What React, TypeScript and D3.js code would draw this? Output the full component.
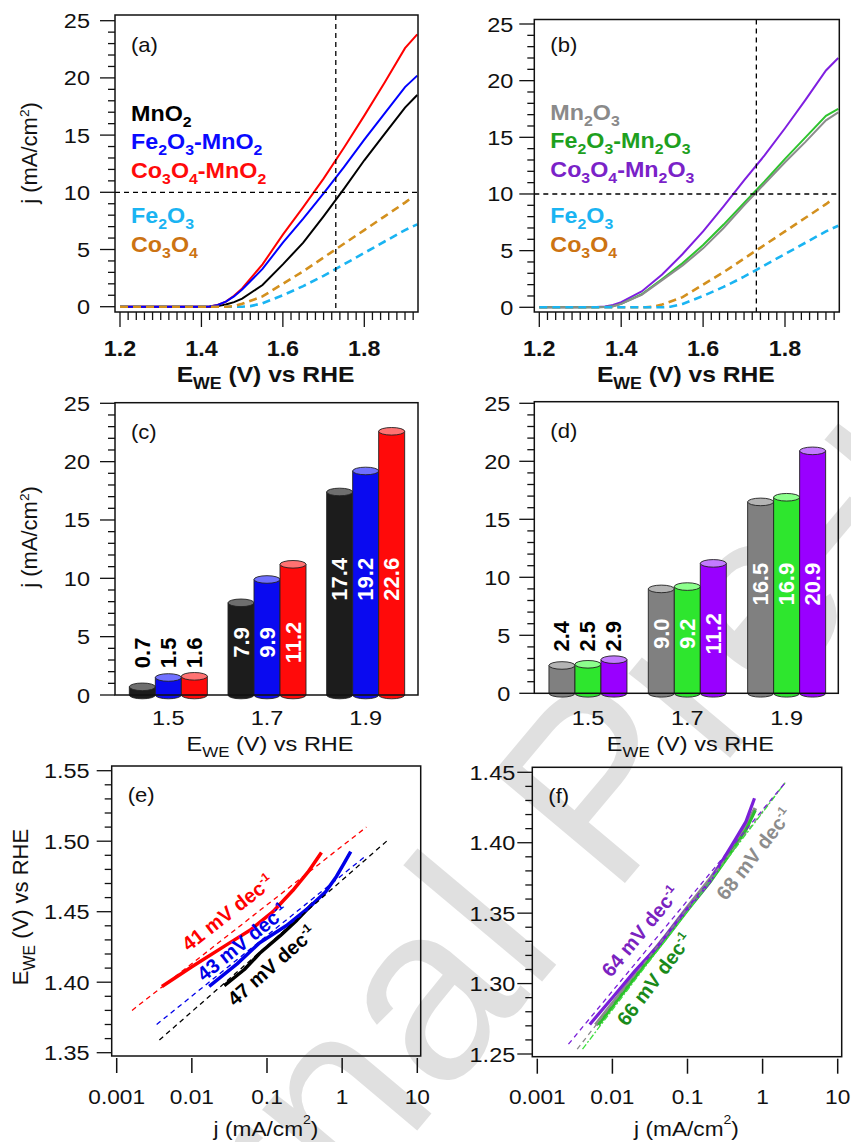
import React from "react";
import * as d3 from "d3";

const FONT = "'Liberation Sans', Arial, Helvetica, sans-serif";
const SX = 1.12; // horizontal texts in the figure look slightly stretched

// ---------- (a) LSV, MnO2 based ----------
const ePotA = [1.2, 1.3, 1.4, 1.42, 1.44, 1.46, 1.48, 1.5, 1.55, 1.6, 1.65, 1.7, 1.75, 1.8, 1.85, 1.9, 1.93];
const jMnO2 = [0, 0, 0, 0, 0.05, 0.2, 0.4, 0.7, 1.9, 3.7, 5.6, 7.9, 10.3, 12.8, 15.1, 17.4, 18.5];
const jFeMnO2 = [0, 0, 0, 0.02, 0.15, 0.45, 0.9, 1.5, 3.3, 5.6, 7.7, 9.9, 12.2, 14.6, 16.9, 19.2, 20.2];
const jCoMnO2 = [0, 0, 0, 0.02, 0.15, 0.45, 0.95, 1.6, 3.7, 6.3, 8.7, 11.2, 13.9, 16.7, 19.6, 22.6, 23.8];

// single oxides (shown in (a) and (b))
const ePotFe2O3 = [1.2, 1.3, 1.4, 1.5, 1.52, 1.55, 1.6, 1.65, 1.7, 1.75, 1.8, 1.85, 1.9, 1.93];
const jFe2O3 = [0, 0, 0, 0, 0.05, 0.3, 1.0, 1.8, 2.7, 3.7, 4.7, 5.7, 6.7, 7.2];
const ePotCo3O4 = [1.2, 1.3, 1.4, 1.46, 1.48, 1.5, 1.55, 1.6, 1.65, 1.7, 1.75, 1.8, 1.85, 1.9, 1.915];
const jCo3O4 = [0, 0, 0, 0, 0.05, 0.25, 0.9, 2.0, 3.1, 4.3, 5.5, 6.7, 7.9, 9.1, 9.5];

// ---------- (b) LSV, Mn2O3 based ----------
const ePotB = [1.2, 1.3, 1.34, 1.36, 1.38, 1.4, 1.45, 1.5, 1.55, 1.6, 1.65, 1.7, 1.75, 1.8, 1.85, 1.9, 1.93];
const jMn2O3 = [0, 0, 0, 0.03, 0.1, 0.3, 1.1, 2.4, 3.7, 5.2, 7.0, 9.0, 10.9, 12.8, 14.6, 16.5, 17.2];
const jFeMn2O3 = [0, 0, 0, 0.03, 0.1, 0.3, 1.15, 2.5, 3.9, 5.5, 7.3, 9.2, 11.1, 13.1, 15.0, 16.9, 17.5];
const jCoMn2O3 = [0, 0, 0.02, 0.07, 0.2, 0.45, 1.4, 2.9, 4.7, 6.7, 8.9, 11.2, 13.4, 15.8, 18.3, 20.9, 22.0];

const crossE = 1.73;
const crossJ = 10;

// ---------- (c), (d) bars ----------
const barPotentials = ["1.5", "1.7", "1.9"];
const barMnO2 = [0.7, 7.9, 17.4];
const barFeMnO2 = [1.5, 9.9, 19.2];
const barCoMnO2 = [1.6, 11.2, 22.6];
const barMn2O3 = [2.4, 9.0, 16.5];
const barFeMn2O3 = [2.5, 9.2, 16.9];
const barCoMn2O3 = [2.9, 11.2, 20.9];

// ---------- (e) Tafel, MnO2 based ----------
const tjCoMnO2 = [0.004, 0.01, 0.03, 0.06, 0.12, 0.22, 0.35, 0.53];
const tECoMnO2 = [1.397, 1.411, 1.427, 1.437, 1.45, 1.465, 1.478, 1.492];
const fitJCoMnO2 = [0.0016, 2.1];
const fitECoMnO2 = [1.38, 1.51];
const tjFeMnO2 = [0.017, 0.04, 0.08, 0.18, 0.37, 0.6, 0.84, 1.05, 1.3];
const tEFeMnO2 = [1.397, 1.413, 1.428, 1.44, 1.4535, 1.464, 1.475, 1.484, 1.4926];
const fitJFeMnO2 = [0.0034, 2.0];
const fitEFeMnO2 = [1.37, 1.489];
const tjMnO2 = [0.027, 0.05, 0.08, 0.15, 0.25, 0.41];
const tEMnO2 = [1.3975, 1.409, 1.4205, 1.433, 1.444, 1.456];
const fitJMnO2 = [0.0037, 4.1];
const fitEMnO2 = [1.359, 1.501];

// ---------- (f) Tafel, Mn2O3 based ----------
const tjCoMn2O3 = [0.005, 0.01, 0.02, 0.041, 0.08, 0.19, 0.43, 0.6, 0.78];
const tECoMn2O3 = [1.271, 1.29, 1.309, 1.327, 1.347, 1.371, 1.402, 1.415, 1.4316];
const fitJCoMn2O3 = [0.0026, 2.05];
const fitECoMn2O3 = [1.257, 1.4434];
const tjMn2O3 = [0.006, 0.012, 0.025, 0.05, 0.1, 0.2, 0.4, 0.6, 0.8];
const tEMn2O3 = [1.2706, 1.291, 1.313, 1.333, 1.354, 1.374, 1.397, 1.411, 1.4245];
const fitJMn2O3 = [0.0034, 2.05];
const fitEMn2O3 = [1.2535, 1.4434];
const tjFeMn2O3 = [0.0065, 0.012, 0.025, 0.05, 0.1, 0.2, 0.4, 0.6, 0.8];
const tEFeMn2O3 = [1.2706, 1.289, 1.311, 1.331, 1.352, 1.372, 1.395, 1.409, 1.423];
const fitJFeMn2O3 = [0.004, 2.05];
const fitEFeMn2O3 = [1.2535, 1.4434];

const slopesE = ["41", "43", "47"];
const slopesF = ["64", "66", "68"];
const logTicks = [0.001, 0.01, 0.1, 1, 10];

const zip = (xs: number[], ys: number[]) => xs.map((x, i) => [x, ys[i]] as [number, number]);

// chemical formula with subscript digits
function chem(s: string, size: number) {
  const parts = s.split(/(\d)/).filter(Boolean);
  let down = false;
  return parts.map((p, i) => {
    const dig = /^\d$/.test(p);
    let dy = 0;
    if (dig && !down) { dy = size * 0.28; down = true; }
    else if (!dig && down) { dy = -size * 0.28; down = false; }
    return (
      <tspan key={i} dy={dy} fontSize={dig ? size * 0.68 : size}>
        {p}
      </tspan>
    );
  });
}

const eweTitle = (size: number) => [
  <tspan key="e">E</tspan>,
  <tspan key="we" dy={size * 0.3} fontSize={size * 0.72}>WE</tspan>,
  <tspan key="r" dy={-size * 0.3}> (V) vs RHE</tspan>,
];

const jTitle = (size: number, high = false) => [
  <tspan key="a">j (mA/cm</tspan>,
  <tspan key="b" dy={-size * (high ? 0.55 : 0.38)} fontSize={size * 0.62}>2</tspan>,
  <tspan key="c" dy={size * (high ? 0.55 : 0.38)}>)</tspan>,
];

function HText(p: any) {
  const { x, y, size = 21, weight = "normal", anchor = "middle", fill = "#111", sx = SX, children } = p;
  return (
    <text transform={`translate(${x},${y}) scale(${sx},1)`} fontSize={size} fontWeight={weight} textAnchor={anchor} fill={fill}>
      {children}
    </text>
  );
}

function RText(p: any) {
  const { x, y, angle, size = 20, weight = "normal", anchor = "middle", fill = "#111", base, children } = p;
  return (
    <text transform={`translate(${x},${y}) rotate(${angle})`} fontSize={size} fontWeight={weight} textAnchor={anchor} fill={fill} dominantBaseline={base}>
      {children}
    </text>
  );
}

function Frame({ b }: any) {
  return <rect x={b.x0} y={b.y0} width={b.x1 - b.x0} height={b.y1 - b.y0} fill="none" stroke="#111" strokeWidth={1.5} />;
}

function YTicks({ scale, x0, from, to, step, every, fmt, gap }: any) {
  const n = Math.round((to - from) / step);
  const out: any[] = [];
  for (let i = 0; i <= n; i++) {
    const v = from + i * step;
    const y = scale(v);
    const major = i % every === 0;
    out.push(<line key={"t" + i} x1={x0 - (major ? 15 : 7)} x2={x0} y1={y} y2={y} stroke="#111" strokeWidth={1.3} />);
    if (major)
      out.push(
        <HText key={"l" + i} x={x0 - gap} y={y + 7.5} anchor="end" size={21}>
          {fmt(v)}
        </HText>
      );
  }
  return <g>{out}</g>;
}

function LsvPanel(p: any) {
  const { b, x, y, series, legend, tag, clipId } = p;
  const line = d3.line<[number, number]>().x((d) => x(d[0])).y((d) => y(d[1]));
  const ticks: any[] = [];
  for (let i = 0; i <= 36; i++) {
    const v = 1.2 + i * 0.02;
    const major = i % 10 === 0;
    ticks.push(<line key={i} x1={x(v)} x2={x(v)} y1={b.y1} y2={b.y1 + (major ? 15 : 8)} stroke="#111" strokeWidth={1.3} />);
  }
  return (
    <g>
      <defs>
        <clipPath id={clipId}>
          <rect x={b.x0} y={b.y0} width={b.x1 - b.x0} height={b.y1 - b.y0} />
        </clipPath>
      </defs>
      <g clipPath={`url(#${clipId})`}>
        {series.map((s: any, i: number) => (
          <path key={i} d={line(zip(s.e, s.j)) || ""} fill="none" stroke={s.color} strokeWidth={s.dash ? 2.6 : 2}
            strokeDasharray={s.dash ? "8,5" : undefined} />
        ))}
        <line x1={x(crossE)} x2={x(crossE)} y1={b.y0} y2={b.y1} stroke="#000" strokeWidth={1.3} strokeDasharray="5,4" />
        <line x1={b.x0} x2={b.x1} y1={y(crossJ)} y2={y(crossJ)} stroke="#000" strokeWidth={1.3} strokeDasharray="5,4" />
      </g>
      <Frame b={b} />
      {ticks}
      {[1.2, 1.4, 1.6, 1.8].map((v) => (
        <HText key={v} x={x(v)} y={356} size={22} weight="bold" sx={1.06}>
          {v.toFixed(1)}
        </HText>
      ))}
      <HText x={(b.x0 + b.x1) / 2 - 1} y={382} size={22} weight="bold" sx={1.12}>
        {eweTitle(22)}
      </HText>
      <YTicks scale={y} x0={b.x0} from={0} to={25} step={1} every={5} fmt={d3.format("d")} gap={p.gap} />
      <HText x={b.x0 + 16} y={52} size={21} anchor="start" sx={1.05}>{tag}</HText>
      {legend.map((l: any, i: number) => (
        <HText key={i} x={b.x0 + 16} y={l.y} size={22} weight="bold" anchor="start" fill={l.color} sx={1.06}>
          {chem(l.name, 22)}
        </HText>
      ))}
    </g>
  );
}

function Cylinder({ x, w, yTop, yBot, body, top }: any) {
  const ry = 3.8;
  const rx = w / 2;
  const d = `M${x},${yTop} L${x},${yBot} A${rx},${ry} 0 0 0 ${x + w},${yBot} L${x + w},${yTop} Z`;
  return (
    <g>
      <path d={d} fill={body} stroke="#222" strokeWidth={0.9} />
      <ellipse cx={x + rx} cy={yTop} rx={rx} ry={ry} fill={top} stroke="#222" strokeWidth={0.9} />
    </g>
  );
}

function BarPanel(p: any) {
  const { b, y, groups, tag, centers } = p;
  const cx = d3.scalePoint<string>().domain(barPotentials).range(centers).padding(0.5);
  const inner = d3.scaleBand<number>().domain([0, 1, 2]).range([-39, 39]);
  const fmt = d3.format(".1f");
  return (
    <g>
      {barPotentials.map((pot, gi) => {
        const vals = groups.map((g: any) => g.values[gi]);
        const minV = d3.min(vals) as number;
        const maxV = d3.max(vals) as number;
        const inside = minV > 5;
        return groups.map((g: any, si: number) => {
          const x = (cx(pot) as number) + (inner(si) as number);
          const w = inner.bandwidth();
          const v = g.values[gi];
          const mid = x + w / 2;
          return (
            <g key={pot + si}>
              <Cylinder x={x} w={w} yTop={y(v)} yBot={y(0)} body={g.body} top={g.top} />
              {inside ? (
                <RText x={mid} y={y(minV * 0.57)} angle={-90} size={22} weight="bold" fill="#fff" base="central">
                  {fmt(v)}
                </RText>
              ) : (
                <RText x={mid} y={y(maxV + 0.7)} angle={-90} size={22} weight="bold" fill="#000" anchor="start" base="central">
                  {fmt(v)}
                </RText>
              )}
            </g>
          );
        });
      })}
      <Frame b={b} />
      <YTicks scale={y} x0={b.x0} from={0} to={25} step={1} every={5} fmt={d3.format("d")} gap={p.gap} />
      {barPotentials.map((pot) => (
        <HText key={pot} x={cx(pot)} y={725} size={21}>
          {pot}
        </HText>
      ))}
      <HText x={(cx("1.7") as number) + 3} y={751} size={21}>
        {eweTitle(21)}
      </HText>
      <HText x={b.x0 + 16} y={b.y0 + 36} size={21} anchor="start" sx={1.05}>{tag}</HText>
    </g>
  );
}

function TafelPanel(p: any) {
  const { b, x, y, curves, labels, tag, clipId, yFrom, yTo } = p;
  const line = d3.line<[number, number]>().x((d) => x(d[0])).y((d) => y(d[1]));
  return (
    <g>
      <defs>
        <clipPath id={clipId}>
          <rect x={b.x0} y={b.y0} width={b.x1 - b.x0} height={b.y1 - b.y0} />
        </clipPath>
      </defs>
      <g clipPath={`url(#${clipId})`}>
        {curves.map((c: any, i: number) => (
          <path key={"s" + i} d={line(zip(c.j, c.e)) || ""} fill="none" stroke={c.color} strokeWidth={c.w}
            strokeLinecap="butt" strokeLinejoin="round" />
        ))}
        {curves.map((c: any, i: number) => (
          <path key={"f" + i} d={line(zip(c.fj, c.fe)) || ""} fill="none" stroke={c.fitColor || c.color} strokeWidth={1.3}
            strokeDasharray={c.fitDash || "5,4"} />
        ))}
      </g>
      {labels.map((l: any, i: number) => {
        const c = curves[l.curve];
        const x0 = x(c.fj[0]), y0 = y(c.fe[0]), x1 = x(c.fj[1]), y1 = y(c.fe[1]);
        const ang = (Math.atan2(y1 - y0, x1 - x0) * 180) / Math.PI;
        return (
          <RText key={i} x={x(l.j)} y={y(l.e)} angle={ang} size={20} weight="bold" anchor="start" fill={l.color}>
            <tspan>{l.text} mV dec</tspan>
            <tspan dy={-8} fontSize={12}>-1</tspan>
          </RText>
        );
      })}
      <Frame b={b} />
      <YTicks scale={y} x0={b.x0} from={yFrom} to={yTo} step={0.01} every={5} fmt={d3.format(".2f")} gap={p.gap} />
      {logTicks.map((v) => (
        <g key={v}>
          <line x1={x(v)} x2={x(v)} y1={b.y1 + 2} y2={b.y1 + 17} stroke="#111" strokeWidth={1.5} />
          <HText x={x(v)} y={1104} size={21} sx={1.08}>
            {String(v)}
          </HText>
        </g>
      ))}
      <HText x={(x(0.1) as number) - 1} y={1136} size={21} sx={1.08}>
        {jTitle(21, true)}
      </HText>
      <HText x={b.x0 + 16} y={b.y0 + 36} size={21} anchor="start" sx={1.05}>{tag}</HText>
    </g>
  );
}

export default function App() {
  const boxA = { x0: 115, y0: 15, x1: 418, y1: 312 };
  const boxB = { x0: 534.3, y0: 19.5, x1: 839.3, y1: 312 };
  const boxC = { x0: 115, y0: 402.7, x1: 418, y1: 695 };
  const boxD = { x0: 534.3, y0: 401.7, x1: 838.3, y1: 693.3 };
  const boxE = { x0: 111.7, y0: 766, x1: 420.7, y1: 1056 };
  const boxF = { x0: 532.3, y0: 767.3, x1: 841.7, y1: 1056.7 };

  const xA = d3.scaleLinear().domain([1.2, 1.8]).range([120, 364.3]);
  const yA = d3.scaleLinear().domain([0, 25]).range([306.7, 20.7]);
  const xB = d3.scaleLinear().domain([1.2, 1.8]).range([539.3, 785]);
  const yB = d3.scaleLinear().domain([0, 25]).range([307.3, 24]);
  const yC = d3.scaleLinear().domain([0, 25]).range([695, 403.3]);
  const yD = d3.scaleLinear().domain([0, 25]).range([693.3, 403.3]);
  const xE = d3.scaleLog().domain([0.001, 10]).range([116.7, 417.3]);
  const yE = d3.scaleLinear().domain([1.35, 1.55]).range([1052.7, 770.7]);
  const xF = d3.scaleLog().domain([0.001, 10]).range([537.3, 837.7]);
  const yF = d3.scaleLinear().domain([1.25, 1.45]).range([1054, 772.3]);

  const fe2o3Color = "#1ab4f2";
  const co3o4Line = "#d3901e";
  const co3o4Text = "#cc7312";

  return (
    <svg width={851} height={1142} style={{ position: "absolute", left: 0, top: 0, background: "#fff" }} fontFamily={FONT}>
      <rect x={0} y={0} width={851} height={1142} fill="#fff" />

      {/* watermark, kept under the data */}
      <text transform="translate(40,1580) rotate(-50)" fontSize={250} fill="#e0e0e0" style={{ pointerEvents: "none" }}>
        Journal Pre-proof
      </text>

      <LsvPanel b={boxA} x={xA} y={yA} tag="(a)" clipId="ca" gap={25}
        series={[
          { e: ePotA, j: jMnO2, color: "#000" },
          { e: ePotA, j: jCoMnO2, color: "#ff0000" },
          { e: ePotFe2O3, j: jFe2O3, color: fe2o3Color, dash: true },
          { e: ePotA, j: jFeMnO2, color: "#0000ff" },
          { e: ePotCo3O4, j: jCo3O4, color: co3o4Line, dash: true },
        ]}
        legend={[
          { name: "MnO2", color: "#000", y: 120.7 },
          { name: "Fe2O3-MnO2", color: "#0a0aff", y: 149 },
          { name: "Co3O4-MnO2", color: "#ff0a0a", y: 177.7 },
          { name: "Fe2O3", color: fe2o3Color, y: 222.7 },
          { name: "Co3O4", color: co3o4Text, y: 251.7 },
        ]}
      />
      <text transform="translate(37,153) rotate(-90)" fontSize={22} textAnchor="middle" fill="#111">{jTitle(22)}</text>

      <LsvPanel b={boxB} x={xB} y={yB} tag="(b)" clipId="cb" gap={21}
        series={[
          { e: ePotB, j: jCoMn2O3, color: "#7f1fe0" },
          { e: ePotB, j: jFeMn2O3, color: "#2fc42f" },
          { e: ePotB, j: jMn2O3, color: "#8c8c8c" },
          { e: ePotCo3O4, j: jCo3O4, color: co3o4Line, dash: true },
          { e: ePotFe2O3, j: jFe2O3, color: fe2o3Color, dash: true },
        ]}
        legend={[
          { name: "Mn2O3", color: "#8a8a8a", y: 120 },
          { name: "Fe2O3-Mn2O3", color: "#1ea01e", y: 148 },
          { name: "Co3O4-Mn2O3", color: "#7a22c8", y: 177 },
          { name: "Fe2O3", color: fe2o3Color, y: 223 },
          { name: "Co3O4", color: co3o4Text, y: 252 },
        ]}
      />

      <BarPanel b={boxC} y={yC} tag="(c)" gap={25} centers={[119, 415]}
        groups={[
          { values: barMnO2, body: "#1c1c1c", top: "#6e6e6e" },
          { values: barFeMnO2, body: "#0a0af0", top: "#7070ff" },
          { values: barCoMnO2, body: "#ff0a0a", top: "#ff7272" },
        ]}
      />
      <text transform="translate(37,537) rotate(-90)" fontSize={22} textAnchor="middle" fill="#111">{jTitle(22)}</text>

      <BarPanel b={boxD} y={yD} tag="(d)" gap={24} centers={[538.3, 836.3]}
        groups={[
          { values: barMn2O3, body: "#808080", top: "#b4b4b4" },
          { values: barFeMn2O3, body: "#2ee62e", top: "#8cff8c" },
          { values: barCoMn2O3, body: "#9900ff", top: "#c37aff" },
        ]}
      />

      <TafelPanel b={boxE} x={xE} y={yE} tag="(e)" clipId="ce" gap={22} yFrom={1.35} yTo={1.55}
        curves={[
          { j: tjMnO2, e: tEMnO2, fj: fitJMnO2, fe: fitEMnO2, color: "#000", w: 3.5 },
          { j: tjFeMnO2, e: tEFeMnO2, fj: fitJFeMnO2, fe: fitEFeMnO2, color: "#0000e8", w: 3.5 },
          { j: tjCoMnO2, e: tECoMnO2, fj: fitJCoMnO2, fe: fitECoMnO2, color: "#ff0000", w: 3.5 },
        ]}
        labels={[
          { curve: 2, text: slopesE[0], j: 0.0091, e: 1.4214, color: "#ff0000" },
          { curve: 1, text: slopesE[1], j: 0.0145, e: 1.4001, color: "#0000e8" },
          { curve: 0, text: slopesE[2], j: 0.0374, e: 1.3824, color: "#000" },
        ]}
      />
      <text transform="translate(28,907) rotate(-90)" fontSize={22} textAnchor="middle" fill="#111">{eweTitle(22)}</text>

      <TafelPanel b={boxF} x={xF} y={yF} tag="(f)" clipId="cf" gap={17} yFrom={1.25} yTo={1.45}
        curves={[
          { j: tjMn2O3, e: tEMn2O3, fj: fitJMn2O3, fe: fitEMn2O3, color: "#8c8c8c", w: 4 },
          { j: tjFeMn2O3, e: tEFeMn2O3, fj: fitJFeMn2O3, fe: fitEFeMn2O3, color: "#2cbf2c", w: 3, fitColor: "#3ee03e", fitDash: "6,2,2,2" },
          { j: tjCoMn2O3, e: tECoMn2O3, fj: fitJCoMn2O3, fe: fitECoMn2O3, color: "#7a1fd8", w: 3.2 },
        ]}
        labels={[
          { curve: 2, text: slopesF[0], j: 0.0096, e: 1.3038, color: "#7a22c0" },
          { curve: 1, text: slopesF[1], j: 0.0155, e: 1.2690, color: "#1a8a1a" },
          { curve: 0, text: slopesF[2], j: 0.326, e: 1.3582, color: "#8c8c8c" },
        ]}
      />
    </svg>
  );
}
